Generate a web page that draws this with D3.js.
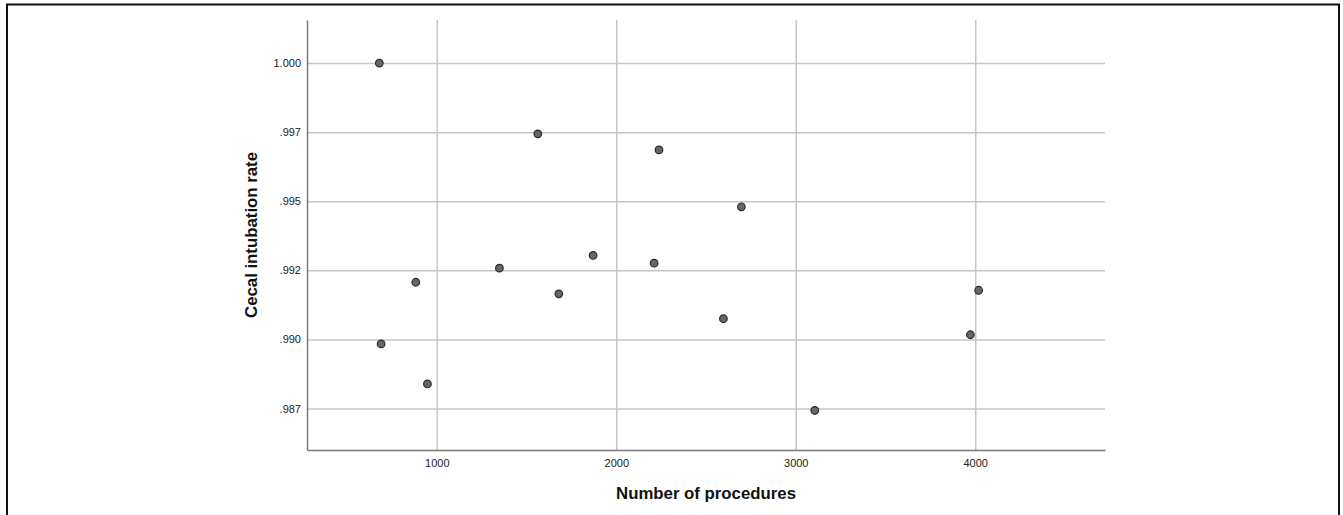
<!DOCTYPE html>
<html>
<head>
<meta charset="utf-8">
<script src="https://cdn.jsdelivr.net/npm/d3@7"></script>
<style>
  body { margin: 0; background: #fff; }
  svg { display: block; font-family: "Liberation Sans", Arial, sans-serif; }
</style>
</head>
<body>
<svg id="chart"></svg>
<script>
var width = 1343;
var height = 515;

// number of procedures per endoscopist
var procedures = [680, 1563, 2238, 2697, 883, 1349, 1680, 1871, 2211, 690, 948, 2597, 3106, 4019, 3973];
// cecal intubation rate
var cecalRate = [1.000, 0.99744, 0.99686, 0.99480, 0.99207, 0.99258, 0.99165, 0.99304, 0.99276, 0.98984, 0.98839, 0.99075, 0.98743, 0.99178, 0.99017];

var xTicks = [1000, 2000, 3000, 4000];
var yTicks = [1.0, 0.9975, 0.995, 0.9925, 0.99, 0.9875];
var yTickLabels = ["1.000", ".997", ".995", ".992", ".990", ".987"];

var margin = { left: 307, right: 238, top: 20, bottom: 65 };

var svg = d3.select("#chart")
    .attr("width", width)
    .attr("height", height);

// outer frame (bottom edge runs off the picture)
svg.append("path")
    .attr("d", "M7,516 L7,4.5 L1339,4.5 L1339,516")
    .attr("fill", "none")
    .attr("stroke", "#111")
    .attr("stroke-width", 2);

var x = d3.scaleLinear()
    .domain([277, 4723])
    .range([margin.left, width - margin.right]);

var y = d3.scaleLinear()
    .domain([0.986, 1.00156])
    .range([height - margin.bottom, margin.top]);

var g = svg.append("g");

// grid lines
g.append("g")
    .attr("class", "grid-x")
    .attr("transform", "translate(0," + (height - margin.bottom) + ")")
    .call(d3.axisBottom(x).tickValues(xTicks).tickSize(-(height - margin.bottom - margin.top)).tickFormat(""))
    .call(function (s) {
        s.select(".domain").remove();
        s.selectAll("line").attr("stroke", "#c6c6c6").attr("stroke-width", 1.5);
    });

g.append("g")
    .attr("class", "grid-y")
    .attr("transform", "translate(" + margin.left + ",0)")
    .call(d3.axisLeft(y).tickValues(yTicks).tickSize(-(width - margin.right - margin.left)).tickFormat(""))
    .call(function (s) {
        s.select(".domain").remove();
        s.selectAll("line").attr("stroke", "#c6c6c6").attr("stroke-width", 1.5);
    });

// axes
var xAxis = g.append("g")
    .attr("transform", "translate(0," + (height - margin.bottom) + ")")
    .call(d3.axisBottom(x).tickValues(xTicks).tickSize(0).tickPadding(9).tickFormat(d3.format("d")));
xAxis.select(".domain").attr("stroke", "#7a7a7a").attr("stroke-width", 1.5);
xAxis.selectAll("text").attr("font-size", "11px").attr("fill", "#222");

var yAxis = g.append("g")
    .attr("transform", "translate(" + margin.left + ",0)")
    .call(d3.axisLeft(y).tickValues(yTicks).tickSize(0).tickPadding(6)
        .tickFormat(function (d, i) { return yTickLabels[i]; }));
yAxis.select(".domain").attr("stroke", "#7a7a7a").attr("stroke-width", 1.5);
yAxis.selectAll("text").attr("font-size", "11px").attr("fill", "#222");

// points
var data = procedures.map(function (p, i) { return { n: p, rate: cecalRate[i] }; });
g.selectAll("circle.pt")
    .data(data)
    .enter()
    .append("circle")
    .attr("class", "pt")
    .attr("cx", function (d) { return x(d.n); })
    .attr("cy", function (d) { return y(d.rate); })
    .attr("r", 3.8)
    .attr("fill", "#666")
    .attr("stroke", "#2b2b2b")
    .attr("stroke-width", 1.2);

// axis titles
svg.append("text")
    .attr("x", (margin.left + width - margin.right) / 2)
    .attr("y", 499)
    .attr("text-anchor", "middle")
    .attr("font-size", "16.8px")
    .attr("font-weight", "bold")
    .attr("fill", "#111")
    .text("Number of procedures");

svg.append("text")
    .attr("transform", "translate(256.5," + (margin.top + height - margin.bottom) / 2 + ")rotate(-90)")
    .attr("text-anchor", "middle")
    .attr("font-size", "16.8px")
    .attr("font-weight", "bold")
    .attr("fill", "#111")
    .text("Cecal intubation rate");
</script>
</body>
</html>
